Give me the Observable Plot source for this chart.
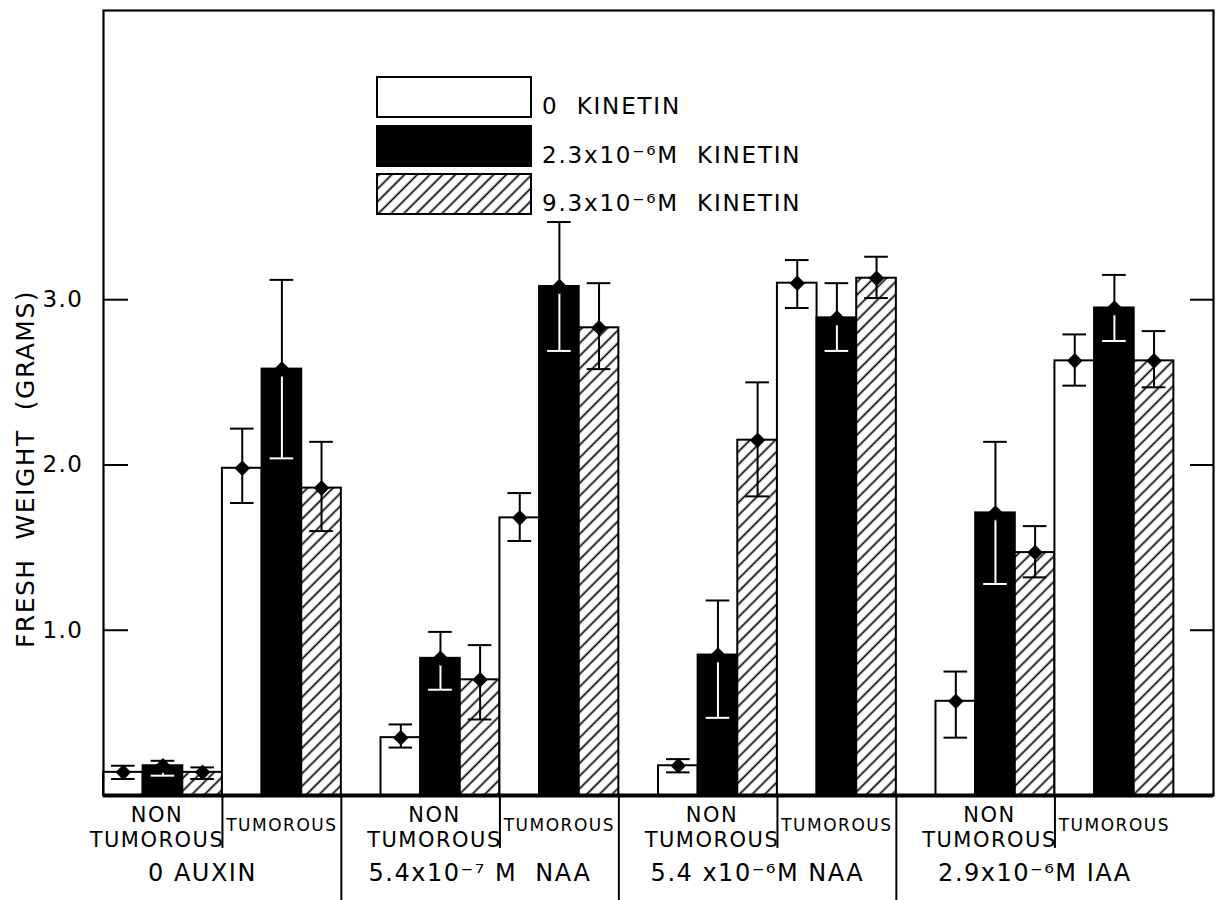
<!DOCTYPE html>
<html>
<head>
<meta charset="utf-8">
<script src="https://cdn.jsdelivr.net/npm/d3@7"></script>
<script src="https://cdn.jsdelivr.net/npm/@observablehq/plot@0.6"></script>
<style>
  html, body { margin: 0; padding: 0; background: #fff; }
  #chart { width: 1219px; height: 900px; }
  svg text { letter-spacing: 1.5px; white-space: pre; }
</style>
</head>
<body>
<div id="chart"></div>
<script>
// ---- data ----
const auxinGroups = ["0 AUXIN", "5.4x10\u207B\u2077 M  NAA", "5.4 x10\u207B\u2076M NAA", "2.9x10\u207B\u2076M IAA"];
const tissues = ["NON\nTUMOROUS", "TUMOROUS"];
const kinetinLevels = ["0  KINETIN", "2.3x10\u207B\u2076M  KINETIN", "9.3x10\u207B\u2076M  KINETIN"];
const yTicks = [1, 2, 3];
const yTitle = "FRESH  WEIGHT  (GRAMS)";

// mean fresh weight (g): [auxin group][tissue][kinetin]
const meanWeight = [
  [[0.14, 0.18, 0.14], [1.98, 2.58, 1.86]],
  [[0.35, 0.83, 0.70], [1.68, 3.08, 2.83]],
  [[0.18, 0.85, 2.15], [3.10, 2.89, 3.13]],
  [[0.57, 1.71, 1.47], [2.63, 2.95, 2.63]]
];
const errLow = [
  [[0.10, 0.12, 0.10], [1.77, 2.04, 1.60]],
  [[0.29, 0.64, 0.46], [1.54, 2.69, 2.58]],
  [[0.14, 0.47, 1.81], [2.95, 2.69, 3.01]],
  [[0.35, 1.28, 1.32], [2.48, 2.75, 2.47]]
];
const errHigh = [
  [[0.18, 0.21, 0.17], [2.22, 3.12, 2.14]],
  [[0.43, 0.99, 0.91], [1.83, 3.47, 3.10]],
  [[0.22, 1.18, 2.50], [3.24, 3.10, 3.26]],
  [[0.75, 2.14, 1.63], [2.79, 3.15, 2.81]]
];

// ---- build table ----
const rows = [];
const slots = [];
auxinGroups.forEach((g, gi) => {
  if (gi > 0) slots.push("gap" + gi);
  tissues.forEach((t, ti) => {
    kinetinLevels.forEach((k, ki) => {
      const key = `${gi}-${ti}-${ki}`;
      slots.push(key);
      rows.push({key, group: g, gi, tissue: t, ti, kinetin: k, ki,
        value: meanWeight[gi][ti][ki], lo: errLow[gi][ti][ki], hi: errHigh[gi][ti][ki]});
    });
  });
});
slots.push("gapEnd");

const W = 1219, H = 900, mL = 103, mR = 6, mT = 10, mB = 105;
const bw = (W - mL - mR) / slots.length;
const blackRows = rows.filter(d => d.ki === 1);
const otherRows = rows.filter(d => d.ki !== 1);

const plot = Plot.plot({
  width: W, height: H,
  marginLeft: mL, marginRight: mR, marginTop: mT, marginBottom: mB,
  style: {fontFamily: "'DejaVu Sans', sans-serif", fontSize: "21px", background: "white", color: "black", overflow: "visible"},
  x: {type: "band", domain: slots, padding: 0, round: false, axis: null},
  y: {domain: [0, 4.75], axis: null},
  color: {type: "ordinal", domain: kinetinLevels, range: ["white", "black", "url(#hatch)"]},
  marks: [
    Plot.barY(rows, {x: "key", y: "value", fill: "kinetin", stroke: "black", strokeWidth: 2}),
    Plot.ruleX(rows, {x: "key", y1: "lo", y2: "hi", stroke: "black", strokeWidth: 2}),
    Plot.ruleX(blackRows, {x: "key", y1: "lo", y2: "value", stroke: "white", strokeWidth: 2}),
    Plot.tickY(rows, {x: "key", y: "hi", stroke: "black", strokeWidth: 2, inset: 8}),
    Plot.tickY(otherRows, {x: "key", y: "lo", stroke: "black", strokeWidth: 2, inset: 8}),
    Plot.tickY(blackRows, {x: "key", y: "lo", stroke: "white", strokeWidth: 2, inset: 8}),
    Plot.dot(rows, {x: "key", y: "value", symbol: "diamond2", r: 7, fill: "black", stroke: "none"}),
    Plot.frame({stroke: "black", strokeWidth: 2.2}),
    Plot.ruleY([0], {stroke: "black", strokeWidth: 4}),
    Plot.tickY(yTicks, {y: d => d, strokeWidth: 2, insetRight: W - mL - mR - 25}),
    Plot.tickY(yTicks, {y: d => d, strokeWidth: 2, insetLeft: W - mL - mR - 23}),
    Plot.text(yTicks, {y: d => d, text: d => d3.format(".1f")(d), frameAnchor: "left", textAnchor: "end", dx: -20, fontSize: 23}),
    Plot.text([yTitle], {frameAnchor: "left", textAnchor: "middle", rotate: -90, dx: -78, dy: 66, fontSize: 25}),
    // separators below the axis
    Plot.ruleX(rows.filter(d => d.ti === 0 && d.ki === 2), {x: "key", y1: 0, y2: -0.32, dx: bw / 2, strokeWidth: 2}),
    Plot.ruleX(rows.filter(d => d.ti === 1 && d.ki === 2 && d.gi < 3), {x: "key", y1: 0, y2: -0.65, dx: bw / 2, strokeWidth: 2}),
    // category labels
    Plot.text(rows.filter(d => d.ti === 0 && d.ki === 1), {x: "key", y: 0, text: "tissue", lineAnchor: "top", dy: 8, dx: -6, fontSize: 21, lineHeight: 1.22, ariaLabel: "nt-label"}),
    Plot.text(rows.filter(d => d.ti === 1 && d.ki === 1), {x: "key", y: 0, text: "tissue", lineAnchor: "top", dy: 23, fontSize: 17, ariaLabel: "t-label"}),
    Plot.text(rows.filter(d => d.ti === 0 && d.ki === 2), {x: "key", y: 0, text: "group", lineAnchor: "top", dy: 68, dx: bw / 2 - 20, fontSize: 24, ariaLabel: "group-label"})
  ]
});

// hatch pattern
const svg = d3.select(plot);
const defs = svg.insert("defs", ":first-child");
const pat = defs.append("pattern").attr("id", "hatch").attr("patternUnits", "userSpaceOnUse")
  .attr("width", 9).attr("height", 9).attr("patternTransform", "rotate(45)");
pat.append("rect").attr("width", 9).attr("height", 9).attr("fill", "white");
pat.append("line").attr("x1", 4.5).attr("y1", -1).attr("x2", 4.5).attr("y2", 10)
  .attr("stroke", "black").attr("stroke-width", 1.7);

// per-label letter spacing
svg.selectAll('g[aria-label="nt-label"] text').style("letter-spacing", "0px");
svg.selectAll('g[aria-label="t-label"] text').style("letter-spacing", "0.3px");
svg.selectAll('g[aria-label="group-label"] text').style("letter-spacing", "2px");

// legend inside the frame
const colorScale = plot.scale("color");
const legend = svg.append("g").attr("font-family", "'DejaVu Sans', sans-serif").attr("font-size", 23)
  .attr("text-anchor", "start");
const boxTops = [77, 126, 174];
kinetinLevels.forEach((k, i) => {
  legend.append("rect").attr("x", 377).attr("y", boxTops[i]).attr("width", 154).attr("height", 40)
    .attr("fill", colorScale.apply(k)).attr("stroke", "black").attr("stroke-width", 2);
  legend.append("text").attr("x", 542).attr("y", boxTops[i] + 37)
    .attr("text-anchor", "start").style("letter-spacing", "1.8px").text(k);
});

document.getElementById("chart").appendChild(plot);
</script>
</body>
</html>
